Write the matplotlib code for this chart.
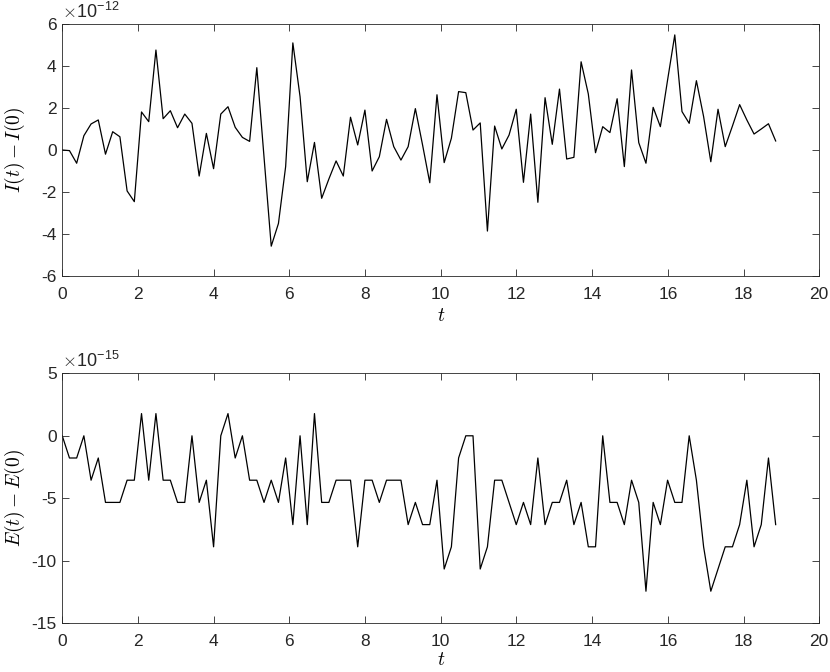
import numpy as np
import matplotlib
matplotlib.use("Agg")
import matplotlib.pyplot as plt

# time step between samples
dt = 0.1904
n_points = 100
t = np.arange(n_points) * dt

# I(t) - I(0), in units of 1e-12
invariant_dev = [
    0.0, -0.03, -0.63, 0.68, 1.24, 1.43, -0.2, 0.87, 0.63, -1.95,
    -2.46, 1.81, 1.35, 4.76, 1.49, 1.87, 1.06, 1.71, 1.27, -1.24,
    0.79, -0.89, 1.71, 2.06, 1.08, 0.6, 0.41, 3.92, -0.34, -4.58,
    -3.5, -0.79, 5.1, 2.54, -1.51, 0.36, -2.3, -1.38, -0.52, -1.24,
    1.56, 0.24, 1.9, -1.0, -0.32, 1.46, 0.16, -0.48, 0.16, 1.97,
    0.24, -1.56, 2.63, -0.6, 0.56, 2.78, 2.73, 0.95, 1.29, -3.86,
    1.14, 0.05, 0.71, 1.94, -1.54, 1.71, -2.49, 2.49, 0.27, 2.9,
    -0.43, -0.35, 4.2, 2.67, -0.13, 1.11, 0.83, 2.44, -0.79, 3.81,
    0.35, -0.63, 2.03, 1.11, 3.33, 5.48, 1.83, 1.27, 3.3, 1.59,
    -0.56, 1.94, 0.16, 1.14, 2.16, 1.43, 0.76, 1.0, 1.25, 0.43,
]

# E(t) - E(0), in units of 1e-15 (multiples of 2^-49 ~ 1.776e-15)
q = 1.7764
energy_levels = [
    0, -1, -1, 0, -2, -1, -3, -3, -3, -2,
    -2, 1, -2, 1, -2, -2, -3, -3, 0, -3,
    -2, -5, 0, 1, -1, 0, -2, -2, -3, -2,
    -3, -1, -4, 0, -4, 1, -3, -3, -2, -2,
    -2, -5, -2, -2, -3, -2, -2, -2, -4, -3,
    -4, -4, -2, -6, -5, -1, 0, 0, -6, -5,
    -2, -2, -3, -4, -3, -4, -1, -4, -3, -3,
    -2, -4, -3, -5, -5, 0, -3, -3, -4, -2,
    -3, -7, -3, -4, -2, -3, -3, 0, -2, -5,
    -7, -6, -5, -5, -4, -2, -5, -4, -1, -4,
]
energy_dev = [lv * q for lv in energy_levels]

top_yticks = [-6, -4, -2, 0, 2, 4, 6]
bot_yticks = [-15, -10, -5, 0, 5]
xticks = list(range(0, 21, 2))

plt.rcParams['font.family'] = ['Liberation Sans', 'DejaVu Sans']
plt.rcParams['mathtext.fontset'] = 'cm'
plt.rcParams['axes.unicode_minus'] = False

fig = plt.figure(figsize=(8.30, 6.72), dpi=100)
ax1 = fig.add_axes([0.075, 0.5893, 0.912, 0.3750])
ax2 = fig.add_axes([0.075, 0.0725, 0.912, 0.3720])

axcol = '#262626'

def style(ax, yticks, ylim):
    ax.set_xlim(0, 20)
    ax.set_ylim(*ylim)
    ax.set_xticks(xticks)
    ax.set_yticks(yticks)
    ax.tick_params(direction='in', length=5, width=0.6, colors=axcol,
                   labelsize=12.5, top=True, right=True, labelcolor='#262626')
    ax.tick_params(axis='x', pad=8)
    ax.tick_params(axis='y', pad=4)
    for s in ax.spines.values():
        s.set_color(axcol)
        s.set_linewidth(0.6)

ax1.plot(t, invariant_dev, color='black', lw=0.9)
style(ax1, top_yticks, (-6, 6))
ax1.set_xlabel(r'$t$', fontsize=14, labelpad=4)
ax1.set_ylabel(r'$I(t)-I(0)$', fontsize=14)
ax1.yaxis.set_label_coords(-0.046, 0.5)
ax1.text(0.0, 1.008, r'$\times$10$^{\mathregular{-12}}$', transform=ax1.transAxes,
         fontsize=13, ha='left', va='bottom', color=axcol)

ax2.plot(t, energy_dev, color='black', lw=0.9)
style(ax2, bot_yticks, (-15, 5))
ax2.set_xlabel(r'$t$', fontsize=14, labelpad=2)
ax2.set_ylabel(r'$E(t)-E(0)$', fontsize=14)
ax2.yaxis.set_label_coords(-0.046, 0.5)
ax2.text(0.0, 1.008, r'$\times$10$^{\mathregular{-15}}$', transform=ax2.transAxes,
         fontsize=13, ha='left', va='bottom', color=axcol)

fig.savefig('out.png', dpi=100)
